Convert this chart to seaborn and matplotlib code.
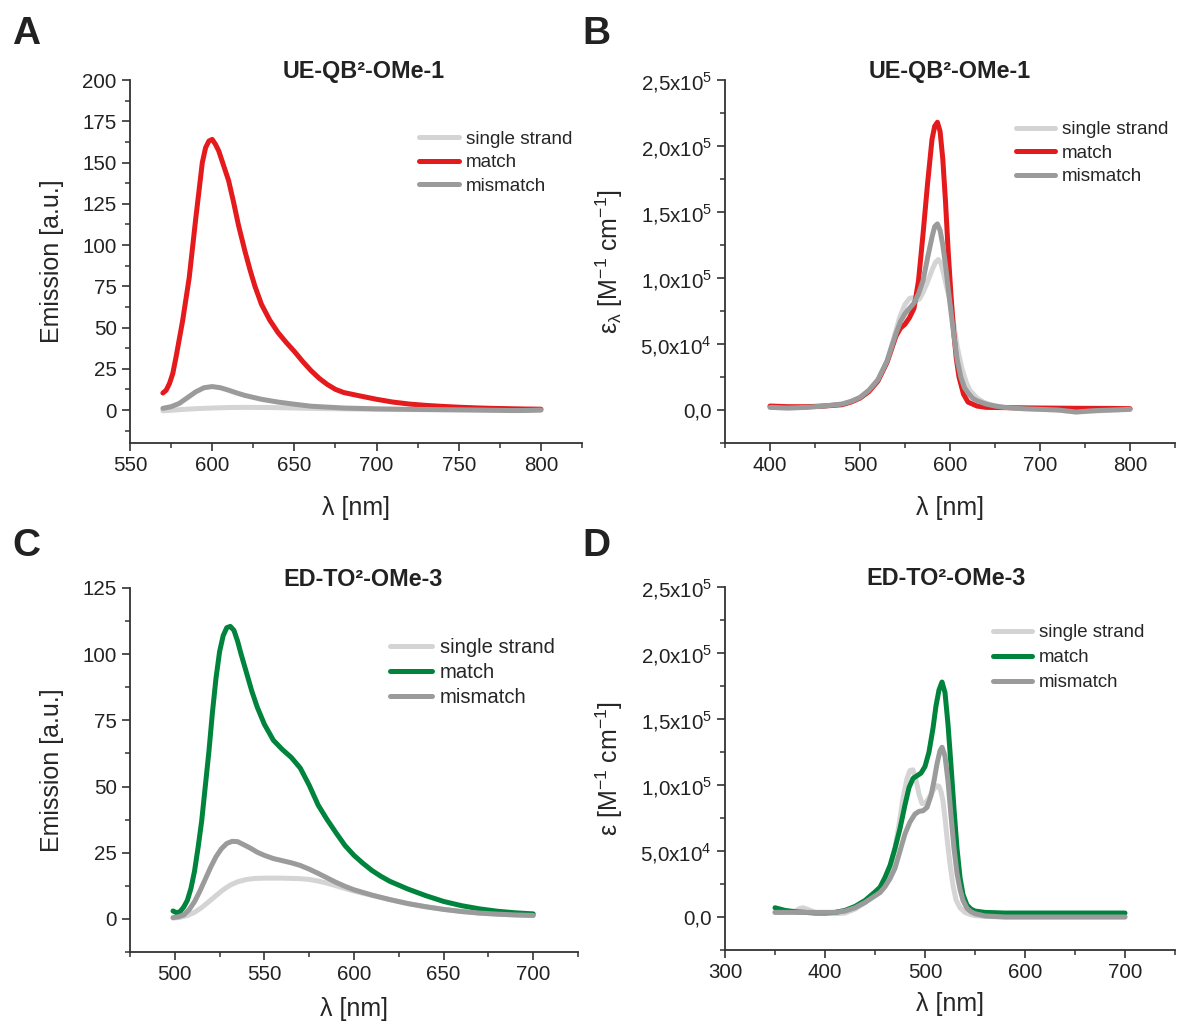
import numpy as np
import pandas as pd
import matplotlib
matplotlib.use("Agg")
import matplotlib.pyplot as plt
import seaborn as sns
from matplotlib.ticker import MultipleLocator, FuncFormatter

# ---- Panel A: UE-QB2-OMe-1 emission ----
a_x_ss = [570, 580, 590, 600, 610, 620, 635, 650, 670, 700, 730, 760, 785, 800]
a_ss = [-0.5, 0.2, 0.8, 1.2, 1.5, 1.6, 1.5, 1.2, 0.8, 0.4, 0.2, 0.0, -0.4, 0.0]

a_x_match = [570, 572, 574, 576, 578, 580, 582, 584, 586, 588, 590, 592, 594, 596, 598, 600,
             602, 604, 606, 608, 610, 613, 616, 620, 623, 626, 630, 635, 640, 645, 650, 655, 660,
             665, 670, 675, 680, 690, 700, 710, 720, 730, 740, 750, 760, 770, 780, 790, 800]
a_match = [10.3, 12, 16, 22, 32, 43, 54, 67, 80, 98, 116, 133, 150, 159, 163, 164,
           161, 157, 151, 145, 139, 126, 112, 96, 85, 75, 64, 54.5, 47, 41, 35.5, 29.5, 24,
           19.3, 15.5, 12.5, 10.6, 8.5, 6.5, 4.8, 3.6, 2.8, 2.2, 1.7, 1.3, 1.0, 0.8, 0.6, 0.5]

a_x_mm = [570, 575, 580, 585, 590, 595, 600, 605, 610, 615, 620, 630, 640, 650, 660, 680,
          700, 720, 740, 760, 780, 790, 800]
a_mm = [1.0, 2.0, 4.0, 7.5, 11, 13.5, 14.2, 13.5, 12, 10.3, 8.8, 6.5, 4.8, 3.5, 2.3, 1.2,
        0.7, 0.4, 0.2, 0.0, -0.3, -0.3, 0.0]

# ---- Panel B: UE-QB2-OMe-1 absorption ----
b_x_match = [400, 420, 440, 460, 480, 490, 500, 510, 520, 530, 540, 545, 550, 555, 560, 565,
             570, 575, 580, 583, 586, 589, 592, 595, 598, 601, 604, 607, 610, 615, 620, 630,
             640, 660, 700, 740, 780, 800]
b_match = [3000, 2500, 2500, 3000, 4000, 6000, 9000, 14000, 22000, 36000, 56000, 62000, 65000,
           70000, 77000, 98000, 133000, 171000, 205000, 215000, 218000, 211000, 190000, 158000,
           120000, 88000, 60000, 39000, 25000, 12000, 6000, 3000, 2000, 1800, 1500, 1300, 1200, 1000]

b_x_mm = [400, 420, 440, 460, 480, 490, 500, 510, 520, 530, 540, 545, 550, 555, 560, 565, 570,
          575, 580, 583, 586, 589, 592, 595, 598, 601, 604, 608, 612, 616, 620, 625, 630, 640,
          650, 660, 680, 700, 720, 740, 760, 780, 800]
b_mm = [2000, 1500, 2000, 3000, 4500, 6500, 9500, 15000, 23000, 37000, 58000, 67000, 73000,
        77000, 81000, 88000, 98000, 115000, 131000, 139000, 141000, 136000, 125000, 110000,
        92000, 75000, 58000, 38000, 25000, 17000, 13000, 9000, 7000, 4500, 3000, 2000, 1000,
        500, 0, -1500, -500, 0, 500]

b_x_ss = [400, 420, 440, 460, 480, 490, 500, 510, 520, 530, 537, 544, 550, 555, 558, 562, 566,
          570, 575, 580, 584, 587, 590, 593, 596, 600, 604, 608, 613, 618, 622, 630, 637, 645,
          655, 670, 700, 720, 740, 760, 780, 800]
b_ss = [2000, 1500, 2000, 3000, 4500, 6500, 9500, 15000, 23000, 37000, 53000, 70000, 80000,
        84500, 85000, 83000, 84000, 89000, 97000, 106000, 112000, 114000, 111000, 103000, 94000,
        83000, 66000, 48000, 32000, 21000, 15000, 9000, 6000, 4000, 2500, 1500, 500, 0, -1500,
        -800, 0, 500]

# ---- Panel C: ED-TO2-OMe-3 emission ----
c_x_match = [499, 501, 503, 505, 507, 509, 511, 513, 515, 517, 519, 521, 523, 525, 527, 529,
             531, 533, 535, 537, 540, 543, 546, 550, 555, 560, 565, 570, 575, 580, 585, 590,
             595, 600, 605, 610, 615, 620, 630, 640, 650, 660, 670, 680, 690, 700]
c_match = [3.0, 2.3, 2.8, 4.5, 7.0, 11.5, 18, 27, 37, 50, 63, 78, 91, 101, 107, 110, 110.5, 109,
           105, 100, 93, 86, 80, 73.5, 67.5, 64, 61, 57, 50.5, 43, 37.5, 32.5, 27.7, 24, 21,
           18.3, 16.1, 14.2, 11.3, 8.8, 6.6, 5, 3.8, 2.9, 2.3, 1.9]

c_x_mm = [499, 502, 505, 508, 511, 514, 517, 520, 523, 526, 529, 532, 535, 538, 542, 546, 550,
          555, 560, 565, 570, 575, 580, 585, 590, 595, 600, 610, 620, 630, 640, 650, 660, 670,
          680, 690, 700]
c_mm = [0.5, 0.8, 1.5, 3.5, 6.5, 10.5, 15, 19.5, 23.5, 26.5, 28.5, 29.3, 29.2, 28.2, 26.8, 25.2,
        24, 22.8, 22, 21.2, 20.2, 18.8, 17.2, 15.5, 13.8, 12.3, 11, 9, 7.3, 5.8, 4.6, 3.6, 2.8,
        2.2, 1.8, 1.5, 1.3]

c_x_ss = [499, 503, 507, 511, 515, 519, 523, 527, 531, 535, 540, 545, 550, 560, 570, 575, 580,
          585, 590, 595, 600, 610, 620, 630, 640, 650, 660, 670, 680, 690, 700]
c_ss = [0.3, 0.6, 1.3, 2.5, 4.3, 6.5, 8.8, 11, 12.8, 14, 14.9, 15.3, 15.4, 15.4, 15.2, 14.9, 14.3,
        13.5, 12.5, 11.5, 10.5, 8.9, 7.3, 5.8, 4.6, 3.6, 2.8, 2.2, 1.8, 1.5, 1.3]

# ---- Panel D: ED-TO2-OMe-3 absorption ----
d_x_match = [350, 355, 360, 370, 380, 390, 400, 410, 420, 430, 440, 450, 455, 460, 465, 470, 475,
             480, 484, 488, 492, 496, 500, 504, 508, 511, 514, 517, 520, 523, 526, 529, 532, 535,
             538, 542, 546, 550, 560, 580, 620, 660, 700]
d_match = [7000, 6000, 5000, 4000, 3500, 3000, 3000, 3500, 5000, 8000, 12500, 19000, 22500, 30000,
           39000, 52000, 67000, 85000, 98000, 105000, 107000, 109000, 114000, 125000, 143000,
           160000, 172000, 178000, 170000, 146000, 115000, 82000, 52000, 30000, 17000, 9000, 6000,
           4500, 3500, 3000, 3000, 3000, 3000]

d_x_mm = [350, 360, 370, 380, 390, 400, 410, 420, 430, 440, 450, 455, 460, 465, 470, 475, 480, 485,
          490, 494, 498, 502, 506, 509, 512, 515, 517, 520, 523, 526, 529, 532, 535, 538, 542, 546,
          550, 560, 580, 620, 660, 700]
d_mm = [3500, 3500, 3500, 3500, 3500, 3500, 3500, 4500, 7000, 11000, 16000, 18500, 23000, 29000,
        37000, 50000, 63000, 72000, 78000, 80000, 80500, 83000, 92000, 103000, 116000, 126000,
        128600, 122000, 103000, 77000, 52000, 33000, 21000, 12500, 6500, 4000, 2500, 800, 0, 0, 0, 0]

d_x_ss = [350, 360, 370, 375, 378, 382, 390, 400, 410, 420, 430, 440, 450, 455, 460, 465, 470, 474,
          478, 482, 485, 488, 491, 494, 497, 500, 503, 506, 509, 512, 514, 516, 518, 520, 522, 525,
          528, 531, 535, 540, 545, 550, 560, 580, 620, 660, 700]
d_ss = [3500, 3500, 4500, 6500, 7000, 6000, 3500, 3000, 2500, 3000, 6000, 11000, 18000, 21000,
        27000, 36000, 52000, 70000, 90000, 105000, 111000, 111500, 104000, 93000, 86000, 86000,
        89000, 93000, 97000, 99500, 99000, 95000, 88000, 75000, 60000, 40000, 24000, 13000, 7000,
        3500, 2000, 1000, 500, 0, 0, 0, 0]

labels = ["single strand", "match", "mismatch"]
c_light = "#d4d4d4"
c_gray = "#9b9b9b"
c_red = "#e41a1c"
c_green = "#00843d"

sns.set_style("ticks")
plt.rcParams["font.family"] = ["Liberation Sans", "DejaVu Sans"]
plt.rcParams["axes.edgecolor"] = "#333333"
plt.rcParams["axes.linewidth"] = 1.3


def sci_fmt(v, pos):
    if abs(v) < 1e-9:
        return "0,0"
    e = int(np.floor(np.log10(abs(v))))
    m = v / 10 ** e
    return f"{m:.1f}".replace(".", ",") + "x10$^{\\mathregular{" + str(e) + "}}$"


def panel(ax, series, colors, title, title_x, xlim, ylim, xmaj, xmin, ymaj, ymin, ylabel,
          leg_xy, leg_fs, leg_sp, xpad, ypad):
    for (xs, ys), col, lab in zip(series, colors, labels):
        df = pd.DataFrame({"x": xs, "y": ys})
        sns.lineplot(data=df, x="x", y="y", ax=ax, color=col, lw=3.6, label=lab,
                     solid_capstyle="round", estimator=None)
    ax.set_xlim(*xlim)
    ax.set_ylim(*ylim)
    ax.xaxis.set_major_locator(MultipleLocator(xmaj))
    ax.xaxis.set_minor_locator(MultipleLocator(xmin))
    ax.yaxis.set_major_locator(MultipleLocator(ymaj))
    ax.yaxis.set_minor_locator(MultipleLocator(ymin))
    ax.tick_params(which="major", direction="out", length=6, width=1.2, labelsize=14.8,
                   colors="#333333", labelcolor="#222222")
    ax.tick_params(which="minor", direction="out", length=3.5, width=1.1, colors="#333333")
    sns.despine(ax=ax)
    ax.set_xlabel("λ [nm]", fontsize=18, labelpad=xpad)
    ax.set_ylabel(ylabel, fontsize=18, labelpad=ypad)
    ax.text(title_x, 1.006, title, transform=ax.transAxes, ha="center", va="baseline",
            fontsize=16.8, fontweight="bold", color="#222222")
    ax.legend(loc="upper left", bbox_to_anchor=leg_xy, frameon=False, fontsize=leg_fs,
              handlelength=2.1, handletextpad=0.35, labelspacing=leg_sp, borderpad=0,
              borderaxespad=0)


fig = plt.figure(figsize=(11.78, 10.23), dpi=100)
W, H = 1178, 1023
axA = fig.add_axes([130 / W, 1 - 443 / H, 452 / W, 363 / H])
axB = fig.add_axes([725 / W, 1 - 443 / H, 450 / W, 363 / H])
axC = fig.add_axes([130 / W, 1 - 952 / H, 448 / W, 364 / H])
axD = fig.add_axes([725 / W, 1 - 950 / H, 450 / W, 363 / H])

panel(axA, [(a_x_ss, a_ss), (a_x_match, a_match), (a_x_mm, a_mm)], [c_light, c_red, c_gray],
      "UE-QB²-OMe-1", 0.516, (550, 825), (-20, 200), 50, 25, 25, 12.5, "Emission [a.u.]",
      (0.640, 0.860), 13.6, 0.33, 15, 13)
panel(axB, [(b_x_ss, b_ss), (b_x_match, b_match), (b_x_mm, b_mm)], [c_light, c_red, c_gray],
      "UE-QB²-OMe-1", 0.5, (350, 850), (-2.5e4, 2.5e5), 100, 50, 5e4, 2.5e4,
      "ε$_{\\mathregular{λ}}$ [M$^{\\mathregular{-1}}$ cm$^{\\mathregular{-1}}$]",
      (0.646, 0.887), 13.6, 0.33, 15, 11)
panel(axC, [(c_x_ss, c_ss), (c_x_match, c_match), (c_x_mm, c_mm)], [c_light, c_green, c_gray],
      "ED-TO²-OMe-3", 0.52, (475, 725), (-12.5, 125), 50, 25, 25, 12.5, "Emission [a.u.]",
      (0.580, 0.862), 14.6, 0.3, 9, 13)
panel(axD, [(d_x_ss, d_ss), (d_x_match, d_match), (d_x_mm, d_mm)], [c_light, c_green, c_gray],
      "ED-TO²-OMe-3", 0.491, (300, 750), (-2.5e4, 2.5e5), 100, 50, 5e4, 2.5e4,
      "ε [M$^{\\mathregular{-1}}$ cm$^{\\mathregular{-1}}$]",
      (0.596, 0.897), 13.4, 0.42, 7, 11)

for ax in (axB, axD):
    ax.yaxis.set_major_formatter(FuncFormatter(sci_fmt))

for txt, x, y in [("A", 12, 16), ("B", 582, 16), ("C", 12, 528), ("D", 582, 528)]:
    fig.text(x / W, 1 - y / H, txt, fontsize=28, fontweight="bold", ha="left", va="top",
             color="#222222")

fig.savefig("out.png", dpi=100)
